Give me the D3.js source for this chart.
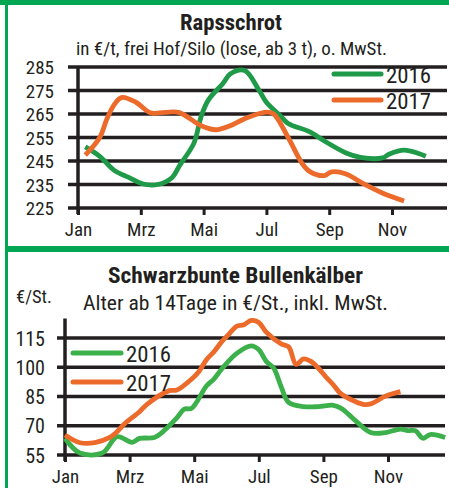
<!DOCTYPE html>
<html>
<head>
<meta charset="utf-8">
<script src="https://cdn.jsdelivr.net/npm/d3@7"></script>
<style>
    body { margin: 0; background: #fff; }
    svg { display: block; }
    text { font-family: "Liberation Sans Narrow", "Arial Narrow", "Roboto Condensed", sans-serif; fill: #231f20; }
</style>
</head>
<body>
<div id="chartContainer"></div>
<script>
// Monatsbeschriftung der x-Achse (jeder zweite Monat)
const monthLabels = ['Jan', 'Mrz', 'Mai', 'Jul', 'Sep', 'Nov'];
const monthTicks = [0, 2, 4, 6, 8, 10];

// Rapsschrot, €/t - Kalenderwoche und Preis
const rapsWeeks2016 = [2, 4, 6, 8, 10, 12, 14, 15, 17, 18, 19, 21, 22, 24, 26, 27, 29, 30, 33, 35, 38, 40, 43, 44, 46, 48, 49];
const rapsPrice2016 = [251, 247, 241, 238, 235.2, 235, 238, 243, 252.6, 264, 271, 278, 282, 283.5, 275, 270, 264, 261, 257.4, 253.5, 248.4, 246.5, 246.3, 248, 249.6, 248.2, 247];
const rapsWeeks2017 = [2, 4, 5, 6, 7, 9, 11, 13, 15, 18, 20, 22, 24, 27, 28, 30, 32, 33, 35, 36, 38, 40, 43, 46];
const rapsPrice2017 = [247.5, 255, 263, 269, 272, 270, 265.5, 265.7, 265.6, 260, 258.3, 260, 263, 265.8, 265, 255, 243.6, 240.5, 238.8, 240.4, 239.5, 236, 231.4, 228];
const rapsTicks = [225, 235, 245, 255, 265, 275, 285];

// Schwarzbunte Bullenkälber, €/Stück
const kaelberWeeks2016 = [1, 3, 6, 8, 10, 11, 13, 14, 16, 17, 18, 20, 21, 22, 24, 26, 27, 28, 29, 30, 31, 33, 35, 37, 38, 39, 40, 42, 44, 46, 47, 48, 49, 50, 52];
const kaelberPrice2016 = [63.6, 56, 56, 64.4, 61.5, 63.5, 64, 66.5, 74, 78.5, 79, 90.5, 94, 99, 107, 111, 109, 103, 99.5, 90, 82, 79.8, 79.8, 80.5, 79, 76, 72.5, 66.5, 66.5, 68.3, 67.5, 67.5, 63.6, 65.5, 64];
const kaelberWeeks2017 = [1, 3, 5, 7, 8, 9, 11, 12, 15, 16, 18, 19, 20, 21, 22, 23, 24, 25, 26, 27, 28, 30, 31, 32, 33, 34, 35, 36, 37, 38, 41, 42, 44, 46];
const kaelberPrice2017 = [65.3, 61.3, 61.3, 64, 67, 71, 77.2, 81, 88, 88.3, 94, 98, 104, 108, 113, 117, 121, 121.8, 124, 123, 118, 112, 110.5, 101.5, 104.3, 103, 99.5, 95, 91, 86.5, 81, 81.2, 85.2, 87.5];
const kaelberTicks = [55, 70, 85, 100, 115];

const seriesNames = ['2016', '2017'];

const svgWidth = 449;
const svgHeight = 488;
const borderGreen = '#00a651';
const orange = '#ec6b2a';

const svg = d3.select('#chartContainer')
    .append('svg')
    .attr('width', svgWidth)
    .attr('height', svgHeight);

// Rahmen
svg.append('rect').attr('x', 0).attr('y', 0).attr('width', svgWidth).attr('height', 5).attr('fill', borderGreen);
svg.append('rect').attr('x', 5).attr('y', 0).attr('width', 3).attr('height', svgHeight).attr('fill', borderGreen);
svg.append('rect').attr('x', 5).attr('y', 246).attr('width', svgWidth).attr('height', 6).attr('fill', borderGreen);

const toMonth = w => (w - 1) * 12 / 52;

function drawPanel(cfg) {
    const g = svg.append('g');

    const xScale = d3.scaleLinear()
        .domain([0, 12])
        .range([cfg.x0, cfg.x0 + 12 * cfg.pxMonth]);

    const yScale = d3.scaleLinear()
        .domain(cfg.yDomain)
        .range(cfg.yRange);

    // Gitterlinien
    g.selectAll('.grid')
        .data(cfg.ticks)
        .enter()
        .append('line')
        .attr('x1', cfg.gridLeft)
        .attr('x2', cfg.gridRight)
        .attr('y1', d => yScale(d))
        .attr('y2', d => yScale(d))
        .attr('stroke', '#231f20')
        .attr('stroke-width', 3.5);

    // y-Achse
    g.append('line')
        .attr('x1', xScale(0)).attr('x2', xScale(0))
        .attr('y1', yScale(cfg.yDomain[1]))
        .attr('y2', yScale(cfg.yDomain[0]) + 6)
        .attr('stroke', '#231f20')
        .attr('stroke-width', 3.5);

    const yAxis = d3.axisLeft(yScale)
        .tickValues(cfg.ticks)
        .tickSize(0)
        .tickPadding(0);
    g.append('g')
        .attr('transform', `translate(${cfg.labelRight}, 0)`)
        .call(yAxis)
        .call(a => a.select('.domain').remove())
        .selectAll('text')
        .attr('font-size', cfg.labelSize)
        .attr('dy', '0.36em');

    const xAxis = d3.axisBottom(xScale)
        .tickValues(monthTicks)
        .tickFormat((d, i) => monthLabels[i])
        .tickSize(7)
        .tickPadding(8);
    g.append('g')
        .attr('transform', `translate(0, ${yScale(cfg.yDomain[0])})`)
        .call(xAxis)
        .call(a => a.select('.domain').remove())
        .call(a => a.selectAll('line').attr('stroke', '#231f20').attr('stroke-width', 3))
        .selectAll('text')
        .attr('font-size', 19);

    const line = d3.line()
        .x(d => xScale(toMonth(d[0])))
        .y(d => yScale(d[1]))
        .curve(d3.curveCatmullRom.alpha(0.5));

    const series = [
        { weeks: cfg.weeks2016, values: cfg.values2016, color: cfg.green },
        { weeks: cfg.weeks2017, values: cfg.values2017, color: orange },
    ];

    series.forEach(s => {
        g.append('path')
            .datum(d3.zip(s.weeks, s.values))
            .attr('fill', 'none')
            .attr('stroke', s.color)
            .attr('stroke-width', 4.8)
            .attr('stroke-linejoin', 'round')
            .attr('d', line);
    });

    // Legende
    series.forEach((s, i) => {
        const ly = cfg.legend.y + i * cfg.legend.step;
        g.append('line')
            .attr('x1', cfg.legend.x).attr('x2', cfg.legend.x + cfg.legend.len)
            .attr('y1', ly).attr('y2', ly)
            .attr('stroke', s.color)
            .attr('stroke-width', 5)
            .attr('stroke-linecap', 'round');
        g.append('text')
            .attr('x', cfg.legend.x + cfg.legend.len + 5)
            .attr('y', ly + 9)
            .attr('font-size', 22)
            .attr('textLength', 45)
            .attr('lengthAdjust', 'spacingAndGlyphs')
            .text(seriesNames[i]);
    });

    g.append('text')
        .attr('x', cfg.titleX)
        .attr('y', cfg.titleY)
        .attr('font-weight', 'bold')
        .attr('font-size', 22)
        .attr('textLength', cfg.titleW)
        .attr('lengthAdjust', 'spacingAndGlyphs')
        .text(cfg.title);

    g.append('text')
        .attr('x', cfg.subX)
        .attr('y', cfg.subY)
        .attr('font-size', cfg.subSize)
        .attr('textLength', cfg.subW)
        .attr('lengthAdjust', 'spacingAndGlyphs')
        .text(cfg.subtitle);

    return g;
}

drawPanel({
    x0: 78, pxMonth: 31.4,
    yDomain: [225, 285], yRange: [208, 67],
    ticks: rapsTicks,
    gridLeft: 68, gridRight: 447, labelRight: 54, labelSize: 19,
    weeks2016: rapsWeeks2016, values2016: rapsPrice2016,
    weeks2017: rapsWeeks2017, values2017: rapsPrice2017,
    green: '#1f9a48',
    legend: { x: 334, len: 47, y: 74, step: 26 },
    title: 'Rapsschrot', titleX: 180, titleY: 30, titleW: 102,
    subtitle: 'in €/t, frei Hof/Silo (lose, ab 3 t), o. MwSt.', subX: 76, subY: 55, subW: 311, subSize: 18,
});

const p2 = drawPanel({
    x0: 65, pxMonth: 32.3,
    yDomain: [55, 125], yRange: [455, 318.5],
    ticks: kaelberTicks,
    gridLeft: 57, gridRight: 445, labelRight: 45, labelSize: 20,
    weeks2016: kaelberWeeks2016, values2016: kaelberPrice2016,
    weeks2017: kaelberWeeks2017, values2017: kaelberPrice2017,
    green: '#3cb04a',
    legend: { x: 73, len: 48, y: 353, step: 29 },
    title: 'Schwarzbunte Bullenkälber', titleX: 108, titleY: 283, titleW: 255,
    subtitle: 'Alter ab 14Tage in €/St., inkl. MwSt.', subX: 83, subY: 310, subW: 305, subSize: 19.5,
});

p2.append('text')
    .attr('x', 16)
    .attr('y', 303)
    .attr('font-size', 18.5)
    .text('€/St.');
</script>
</body>
</html>
